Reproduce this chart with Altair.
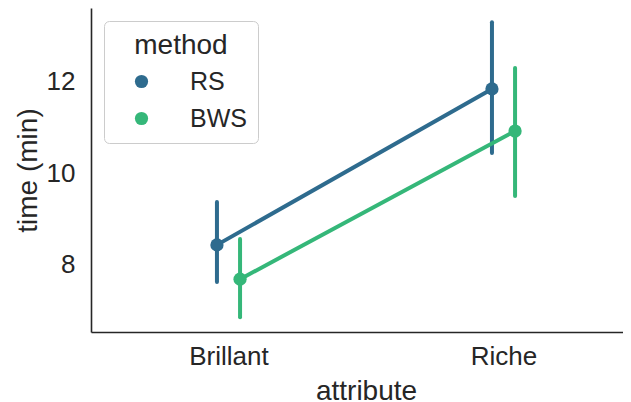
import altair as alt
import pandas as pd

attributes = ["Brillant", "Riche"]
methods = ["RS", "BWS"]
rs_mean = [8.43, 11.84]
rs_lo = [7.62, 10.44]
rs_hi = [9.37, 13.30]
bws_mean = [7.68, 10.92]
bws_lo = [6.85, 9.50]
bws_hi = [8.56, 12.30]
colors = ["#2e6b8e", "#35b779"]

rows = []
for i, a in enumerate(attributes):
    rows.append({"attribute": a, "idx": i, "method": "RS", "mean": rs_mean[i], "lo": rs_lo[i], "hi": rs_hi[i]})
    rows.append({"attribute": a, "idx": i, "method": "BWS", "mean": bws_mean[i], "lo": bws_lo[i], "hi": bws_hi[i]})
df = pd.DataFrame(rows)

FONT = "Liberation Sans"
TXT = "#262626"

base = alt.Chart(df).transform_calculate(
    pos="datum.idx + (datum.method == 'RS' ? -0.042 : 0.042)"
)

x_enc = alt.X(
    "pos:Q",
    scale=alt.Scale(domain=[-0.5, 1.4345], nice=False, zero=False),
    axis=alt.Axis(
        values=[0, 1],
        labelExpr="datum.value == 0 ? 'Brillant' : 'Riche'",
        title="attribute",
        titleX=275,
        titleY=67,
        titleBaseline="alphabetic",
        titleAlign="center",
        labelPadding=11,
    ),
)
y_enc = alt.Y(
    "mean:Q",
    scale=alt.Scale(domain=[6.525, 13.61], nice=False, zero=False),
    axis=alt.Axis(
        values=[8, 10, 12],
        title="time (min)",
        titleX=-63,
        titleY=162,
        titleAlign="center",
        titleBaseline="middle",
        labelPadding=16,
    ),
)
color_scale = alt.Scale(domain=methods, range=colors)

lines = base.mark_line(strokeWidth=4, strokeCap="round").encode(
    x=x_enc,
    y=y_enc,
    color=alt.Color("method:N", scale=color_scale),
    detail="method:N",
    order="pos:Q",
)

rules = base.mark_rule(strokeWidth=4, strokeCap="round").encode(
    x="pos:Q",
    y="lo:Q",
    y2="hi:Q",
    color=alt.Color("method:N", scale=color_scale),
)

points = base.mark_circle(size=175, opacity=1).encode(
    x="pos:Q",
    y="mean:Q",
    color=alt.Color("method:N", scale=color_scale),
)

chart = (
    alt.layer(rules, lines, points)
    .properties(
        width=532,
        height=324,
        autosize=alt.AutoSizeParams(type="none"),
        padding={"left": 83, "top": 0, "right": 0, "bottom": 70},
    )
    .configure(font=FONT)
    .configure_view(strokeOpacity=0)
    .configure_axis(
        grid=False,
        ticks=False,
        domainColor=TXT,
        domainWidth=1.6,
        labelFont=FONT,
        labelFontSize=26,
        labelColor=TXT,
        titleFont=FONT,
        titleFontSize=28,
        titleFontWeight="normal",
        titleColor=TXT,
    )
    .configure_legend(
        orient="top-left",
        offset=13,
        symbolType="circle",
        symbolSize=175,
        symbolStrokeWidth=0,
        symbolOffset=14,
        labelOffset=36,
        padding=11,
        rowPadding=11,
        titlePadding=9,
        titleAnchor="middle",
        strokeColor="#cccccc",
        fillColor="white",
        cornerRadius=5,
        labelFont=FONT,
        labelFontSize=25,
        labelColor=TXT,
        titleFont=FONT,
        titleFontSize=28,
        titleFontWeight="normal",
        titleColor=TXT,
    )
)

chart.save("out.html", embed_options={"renderer": "svg", "actions": False})
